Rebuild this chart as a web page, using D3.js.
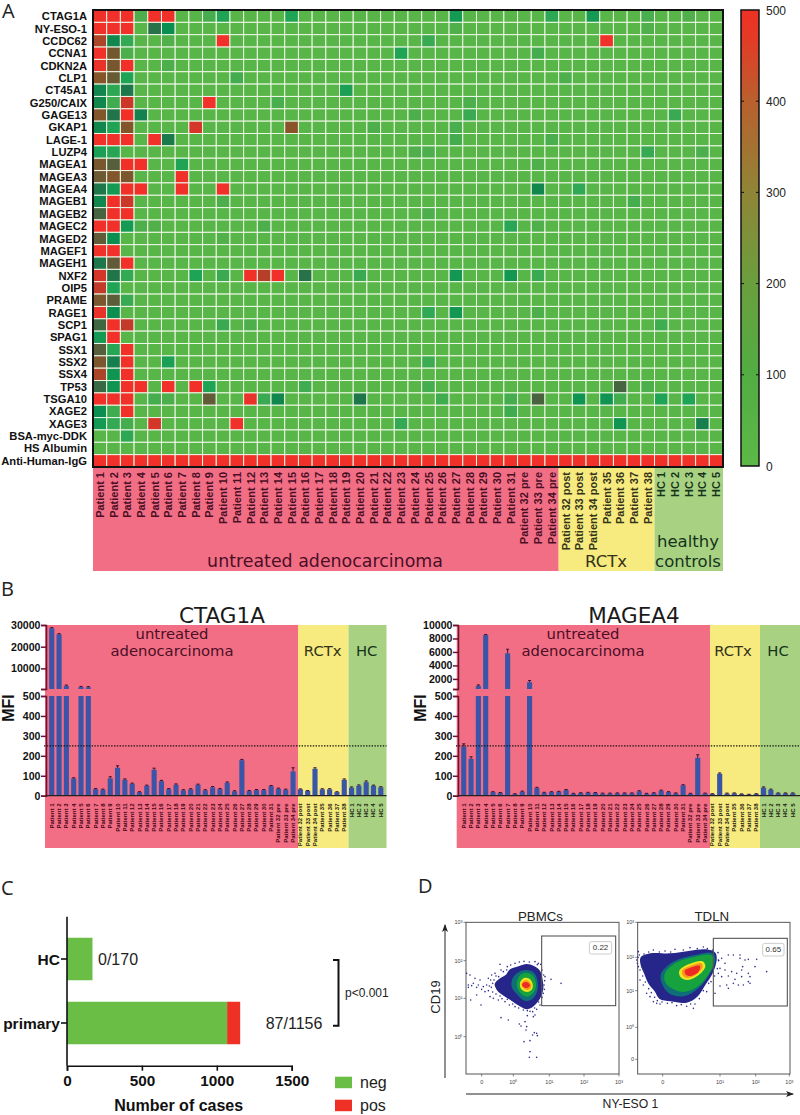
<!DOCTYPE html>
<html><head><meta charset="utf-8">
<script src="https://cdn.jsdelivr.net/npm/d3@7"></script>
<style>html,body{margin:0;padding:0;background:#fff}svg{display:block}text{font-family:"Liberation Sans",Arial,sans-serif}</style>
</head><body><div id="c"></div>
<script>
const genes=["CTAG1A","NY-ESO-1","CCDC62","CCNA1","CDKN2A","CLP1","CT45A1","G250/CAIX","GAGE13","GKAP1","LAGE-1","LUZP4","MAGEA1","MAGEA3","MAGEA4","MAGEB1","MAGEB2","MAGEC2","MAGED2","MAGEF1","MAGEH1","NXF2","OIP5","PRAME","RAGE1","SCP1","SPAG1","SSX1","SSX2","SSX4","TP53","TSGA10","XAGE2","XAGE3","BSA-myc-DDK","HS Albumin","Anti-Human-IgG"];
const patients=["Patient 1","Patient 2","Patient 3","Patient 4","Patient 5","Patient 6","Patient 7","Patient 8","Patient 9","Patient 10","Patient 11","Patient 12","Patient 13","Patient 14","Patient 15","Patient 16","Patient 17","Patient 18","Patient 19","Patient 20","Patient 21","Patient 22","Patient 23","Patient 24","Patient 25","Patient 26","Patient 27","Patient 28","Patient 29","Patient 30","Patient 31","Patient 32 pre","Patient 33 pre","Patient 34 pre","Patient 32 post","Patient 33 post","Patient 34 post","Patient 35","Patient 36","Patient 37","Patient 38","HC 1","HC 2","HC 3","HC 4","HC 5"];
const heatBackground=12;
// [gene, patient index, value] for every cell that stands out from the background
const heatCells=[
["CTAG1A",0,500],["CTAG1A",1,500],["CTAG1A",2,500],["CTAG1A",3,40],["CTAG1A",4,500],["CTAG1A",5,500],["CTAG1A",8,50],["CTAG1A",9,110],["CTAG1A",14,110],["CTAG1A",26,130],["CTAG1A",33,90],["CTAG1A",36,130],["CTAG1A",40,45],["CTAG1A",43,35],
["NY-ESO-1",0,500],["NY-ESO-1",1,500],["NY-ESO-1",2,500],["NY-ESO-1",4,230],["NY-ESO-1",5,150],["NY-ESO-1",26,35],["NY-ESO-1",40,35],
["CCDC62",0,430],["CCDC62",1,170],["CCDC62",2,80],["CCDC62",5,30],["CCDC62",9,500],["CCDC62",24,70],["CCDC62",37,500],
["CCNA1",0,500],["CCNA1",1,350],["CCNA1",2,40],["CCNA1",22,110],["CCNA1",32,55],
["CDKN2A",0,490],["CDKN2A",1,360],["CDKN2A",2,500],["CDKN2A",5,40],
["CLP1",0,390],["CLP1",1,330],["CLP1",2,110],["CLP1",10,55],["CLP1",34,40],
["CT45A1",0,170],["CT45A1",1,90],["CT45A1",2,210],["CT45A1",18,120],
["G250/CAIX",0,170],["G250/CAIX",1,60],["G250/CAIX",2,460],["G250/CAIX",8,500],["G250/CAIX",13,45],["G250/CAIX",27,40],
["GAGE13",0,380],["GAGE13",1,220],["GAGE13",2,500],["GAGE13",3,180],["GAGE13",23,40],["GAGE13",27,70],["GAGE13",42,70],
["GKAP1",0,170],["GKAP1",1,110],["GKAP1",2,380],["GKAP1",7,470],["GKAP1",14,400],["GKAP1",20,40],["GKAP1",26,45],
["LAGE-1",0,500],["LAGE-1",1,500],["LAGE-1",2,500],["LAGE-1",4,500],["LAGE-1",5,200],["LAGE-1",26,55],["LAGE-1",33,45],
["LUZP4",0,120],["LUZP4",1,100],["LUZP4",23,35],["LUZP4",24,40],["LUZP4",40,75],["LUZP4",44,40],
["MAGEA1",0,360],["MAGEA1",1,300],["MAGEA1",2,500],["MAGEA1",3,500],["MAGEA1",6,110],["MAGEA1",32,35],
["MAGEA3",0,340],["MAGEA3",1,380],["MAGEA3",2,370],["MAGEA3",6,500],
["MAGEA4",0,210],["MAGEA4",1,130],["MAGEA4",2,500],["MAGEA4",3,500],["MAGEA4",6,500],["MAGEA4",9,500],["MAGEA4",32,170],["MAGEA4",35,85],
["MAGEB1",0,170],["MAGEB1",1,500],["MAGEB1",2,460],["MAGEB1",9,40],["MAGEB1",39,50],
["MAGEB2",0,280],["MAGEB2",1,500],["MAGEB2",2,500],["MAGEB2",24,40],
["MAGEC2",0,500],["MAGEC2",1,500],["MAGEC2",2,130],["MAGEC2",3,40],["MAGEC2",4,30],["MAGEC2",12,40],["MAGEC2",30,95],["MAGEC2",32,35],
["MAGED2",0,320],["MAGED2",1,150],["MAGED2",9,30],
["MAGEF1",0,500],["MAGEF1",1,500],
["MAGEH1",0,210],["MAGEH1",1,320],["MAGEH1",2,500],
["NXF2",0,470],["NXF2",1,220],["NXF2",2,80],["NXF2",7,110],["NXF2",9,70],["NXF2",11,500],["NXF2",12,440],["NXF2",13,500],["NXF2",15,230],["NXF2",19,70],["NXF2",26,135],["NXF2",30,135],["NXF2",32,70],
["OIP5",0,450],["OIP5",1,110],
["PRAME",0,370],["PRAME",1,310],["PRAME",2,70],
["RAGE1",0,490],["RAGE1",1,150],["RAGE1",24,85],["RAGE1",26,135],["RAGE1",32,40],
["SCP1",0,270],["SCP1",1,500],["SCP1",2,450],["SCP1",9,70],["SCP1",11,40],["SCP1",41,60],
["SPAG1",0,130],["SPAG1",1,500],
["SSX1",0,300],["SSX1",1,100],["SSX1",2,500],
["SSX2",0,370],["SSX2",1,190],["SSX2",2,500],["SSX2",5,120],["SSX2",24,65],
["SSX4",0,430],["SSX4",1,140],["SSX4",2,500],
["TP53",0,260],["TP53",1,140],["TP53",2,500],["TP53",3,500],["TP53",5,500],["TP53",7,500],["TP53",8,110],["TP53",15,60],["TP53",24,50],["TP53",38,280],["TP53",40,40],
["TSGA10",0,500],["TSGA10",1,500],["TSGA10",2,500],["TSGA10",4,50],["TSGA10",5,40],["TSGA10",8,320],["TSGA10",11,490],["TSGA10",12,70],["TSGA10",13,170],["TSGA10",19,210],["TSGA10",25,60],["TSGA10",30,50],["TSGA10",32,285],["TSGA10",35,140],["TSGA10",37,140],["TSGA10",38,55],["TSGA10",41,110],["TSGA10",43,110],
["XAGE2",0,150],["XAGE2",1,60],["XAGE2",2,500],["XAGE2",30,60],
["XAGE3",0,130],["XAGE3",1,80],["XAGE3",2,50],["XAGE3",4,470],["XAGE3",10,500],["XAGE3",22,80],["XAGE3",38,140],["XAGE3",44,190],
["BSA-myc-DDK",2,90]
];
const heatStops=[0,30,70,110,150,200,250,300,350,400,450,500];
const heatColors=["#5cb947","#52b04a","#3aaa52","#1fa456","#0b8f50","#1a7a4c","#2f6c46","#555f3c","#73582f","#8a5428","#c23a2a","#f1302a"];
const barStops=[0,100,200,300,400,470,500];
const barColors=["#5cb947","#52ad43","#6a9f3e","#8f8537","#b9602e","#e43a26","#ee3124"];
const colorbarTicks=[0,100,200,300,400,500];
const groups=[{name:"pink",from:0,to:33,fill:"#f26e85",ink:"#4a0f25"},{name:"yellow",from:34,to:40,fill:"#f7ea7e",ink:"#33331a"},{name:"green",from:41,to:45,fill:"#a8d282",ink:"#16331b"}];

const ctagValues=[28500,25700,1900,87,1400,1300,33,30,87,140,80,60,18,50,130,73,33,55,27,32,55,27,42,33,65,22,178,23,28,28,48,35,30,122,32,24,135,32,32,18,80,40,50,68,50,42];
const ctagErrors=[300,300,400,3,300,300,3,3,8,10,4,3,2,3,8,4,3,4,3,3,3,3,4,3,4,3,4,3,3,3,3,3,3,18,2,2,5,3,3,2,4,4,4,6,3,3];
const mageValues=[245,185,950,8500,18,14,5800,8,20,1500,38,15,18,20,28,10,13,15,14,11,11,12,12,12,22,10,13,25,18,12,52,10,190,11,9,110,11,12,8,6,9,40,30,12,12,12];
const mageErrors=[15,10,150,80,2,2,600,2,3,250,4,2,2,2,3,2,2,2,2,2,2,2,2,2,3,2,2,3,2,2,3,2,15,2,1,4,2,2,1,1,1,4,3,2,2,2];
const lowTicks=[0,100,200,300,400,500];
const ctagHighTicks=[10000,20000,30000];
const mageHighTicks=[2000,4000,6000,8000,10000];
const cutoff=250;

const caseGroups=["HC","primary"];
const caseNeg=[170,1069];
const casePos=[0,87];
const caseLabels=["0/170","87/1156"];
const caseTicks=[0,500,1000,1500];

// flow plots: density outlines and single events, read in picture channels
const flowLevels=["#26258a","#0f6f78","#16a23c","#f2e41e","#f59a1e","#ee2a24"];
const pbmcContours=[
[[368,330],[360,302],[342,288],[320,282],[298,288],[270,298],[258,314],[238,326],[224,342],[232,362],[252,378],[274,392],[298,408],[322,418],[344,406],[362,382],[370,355]],
[[352,330],[342,308],[320,300],[296,306],[278,325],[275,350],[290,372],[314,392],[336,388],[352,362]],
[[348,340],[336,314],[316,308],[298,318],[290,345],[302,370],[322,380],[342,366]],
[[338,342],[328,326],[312,324],[300,338],[304,358],[322,366],[336,358]],
[[334,344],[324,332],[312,332],[304,342],[310,354],[324,360],[332,354]],
[[330,345],[320,336],[310,338],[306,346],[316,354],[326,352]]];
const tdlnContours=[
[[662,262],[692,250],[750,250],[810,242],[858,238],[886,248],[890,270],[878,310],[856,345],[832,380],[800,398],[752,394],[718,386],[704,364],[686,342],[672,310],[662,285]],
[[722,314],[742,288],[776,268],[830,254],[878,250],[886,272],[868,314],[836,354],[795,378],[750,372],[728,346]],
[[735,310],[770,277],[825,260],[875,256],[882,275],[862,318],[830,352],[790,366],[754,354],[735,335]],
[[778,302],[808,282],[848,274],[856,290],[832,318],[802,330],[782,322]],
[[786,302],[816,286],[844,280],[848,292],[830,312],[804,324],[790,318]],
[[794,302],[820,290],[840,288],[835,306],[812,318],[798,314]]];
const pbmcEvents=[[243,443],[265,450],[298,462],[315,455],[303,468],[320,470],[318,480],[343,488],[350,490],[338,495],[352,497],[312,515],[330,512],[330,545],[328,562],[350,562],[340,440],[322,437],[345,435],[393,328],[423,340],[183,405],[152,390],[170,375],[160,340],[145,345],[155,347],[140,310],[150,315],[165,325],[180,330],[175,345],[190,350],[200,345],[195,365],[210,380],[205,325],[215,315],[225,310],[240,283],[243,300],[260,300],[232,335],[345,275],[362,283],[355,280],[375,320],[372,345],[370,370],[360,405],[350,418],[338,425],[322,422],[145,352],[170,352],[185,358],[205,362],[220,385],[235,390],[255,395],[268,405],[285,410],[218,340],[214,352],[222,330],[228,372],[240,378],[250,305],[262,290],[272,285],[285,280],[298,276],[312,274],[328,276],[352,284],[366,300],[371,315],[374,332],[373,358],[366,382],[356,396],[344,414],[330,424],[310,420],[296,414],[278,402],[262,388],[246,386],[236,320],[228,318],[212,330],[208,348],[218,366]];
const tdlnEvents=[[925,255],[940,255],[960,255],[985,268],[1010,268],[1005,290],[968,290],[965,300],[950,310],[935,305],[915,300],[900,295],[895,310],[905,320],[925,318],[945,328],[965,320],[985,310],[990,320],[985,335],[970,345],[955,345],[940,340],[920,345],[900,348],[925,355],[1040,305],[885,370],[990,340],[960,265],[975,270],[895,270],[905,265],[915,280],[820,415],[655,290],[660,330],[670,345],[680,370],[690,380],[700,395],[710,400],[650,270],[655,245],[700,240],[735,243],[765,238],[810,233],[850,231],[720,402],[770,407],[800,409],[825,402],[860,365],[873,335],[654,262],[658,255],[664,270],[652,280],[660,300],[668,318],[676,336],[686,356],[694,368],[704,382],[712,392],[726,396],[742,400],[756,398],[784,404],[812,402],[838,386],[850,362],[866,340],[884,318],[892,296],[896,272],[894,248],[878,240],[862,236],[832,236],[790,240],[752,246],[718,246],[686,246],[672,252],[666,290],[674,302]];
const flowPlots=[
{title:"PBMCs",box:[138,597],value:"0.22",gate:[365,587,198,407],valueBox:[508,575,215,252],contours:pbmcContours,events:pbmcEvents,xTicks:[[185,"0"],[280,"10⁰"],[388,"10¹"],[492,"10²"],[597,"10³"]],yTicks:[[157,"10³"],[272,"10²"],[385,"10¹"],[500,"10⁰"]]},
{title:"TDLN",box:[653,1110],value:"0.65",gate:[880,1102,205,408],valueBox:[1028,1092,220,258],contours:tdlnContours,events:tdlnEvents,xTicks:[[728,"0"],[900,"10¹"],[1007,"10²"],[1108,"10³"]],yTicks:[[157,"10³"],[262,"10²"],[362,"10¹"],[472,"10⁰"],[568,"0"]]}];

const svg=d3.select("#c").append("svg").attr("width",800).attr("height",1115).attr("viewBox","0 0 800 1115");
const DJ='"DejaVu Sans",sans-serif';
function letter(t,x,y){svg.append("text").attr("x",x).attr("y",y).attr("font-size",20).attr("fill","#222").style("font-family",'"Open Sans",sans-serif').text(t);}
letter("A",2,18);letter("B",1,596);letter("C",1,895);letter("D",418,893);

/* ---------- Panel A ---------- */
const hm={l:93,r:723,t:10,b:467};
const hx=d3.scaleBand().domain(patients).range([hm.l,hm.r]);
const hy=d3.scaleBand().domain(genes).range([hm.t,hm.b]);
const heatColor=d3.scaleLinear().domain(heatStops).range(heatColors).clamp(true);
const heatLookup=new Map(heatCells.map(d=>[d[0]+"|"+d[1],d[2]]));
const A=svg.append("g");
const grid=[];
genes.forEach(g=>patients.forEach((p,i)=>{
  const v=g==="Anti-Human-IgG"?500:(heatLookup.has(g+"|"+i)?heatLookup.get(g+"|"+i):heatBackground);
  grid.push({g,p,v});
}));
A.selectAll("rect.cell").data(grid).join("rect").attr("class","cell")
 .attr("x",d=>hx(d.p)).attr("y",d=>hy(d.g)).attr("width",hx.bandwidth()).attr("height",hy.bandwidth())
 .attr("fill",d=>heatColor(d.v)).attr("stroke","#eef7e6").attr("stroke-width",1);
A.append("rect").attr("x",hm.l).attr("y",hm.t).attr("width",hm.r-hm.l).attr("height",hm.b-hm.t).attr("fill","none").attr("stroke","#111").attr("stroke-width",2);
A.selectAll("text.gene").data(genes).join("text").attr("class","gene").attr("x",87).attr("y",d=>hy(d)+hy.bandwidth()/2+4)
 .attr("text-anchor","end").attr("font-size",11.2).attr("font-weight","bold").attr("fill","#111").text(d=>d);
const bandTop=468,bandBottom=571;
groups.forEach(g=>{
  const x0=hx(patients[g.from]),x1=hx(patients[g.to])+hx.bandwidth();
  A.append("rect").attr("x",x0).attr("y",bandTop).attr("width",x1-x0).attr("height",bandBottom-bandTop).attr("fill",g.fill);
});
function inkFor(i){return groups.find(g=>i>=g.from&&i<=g.to).ink;}
A.selectAll("text.pat").data(patients).join("text").attr("class","pat")
 .attr("transform",d=>`translate(${hx(d)+hx.bandwidth()/2+4},472) rotate(-90)`)
 .attr("text-anchor","end").attr("font-size",11).attr("font-weight","bold").attr("fill",(d,i)=>inkFor(i)).text(d=>d);
function bigLabel(parent,t,x,y,size,ink,anchor){parent.append("text").attr("x",x).attr("y",y).attr("text-anchor",anchor||"middle").attr("font-size",size).attr("fill",ink).style("font-family",DJ).text(t);}
bigLabel(A,"untreated adenocarcinoma",325,567,17.4,"#4a0f25");
bigLabel(A,"RCTx",606,567,16.5,"#33331a");
bigLabel(A,"healthy",688,547,16.5,"#16331b");
bigLabel(A,"controls",688,567,16.5,"#16331b");

// colour bar
const cb={l:741,r:759,t:10,b:466};
const cy=d3.scaleLinear().domain([0,500]).range([cb.b,cb.t]);
const barColor=d3.scaleLinear().domain(barStops).range(barColors);
const defs=svg.append("defs");
const lg=defs.append("linearGradient").attr("id","cbg").attr("x1",0).attr("x2",0).attr("y1",1).attr("y2",0);
barStops.forEach(s=>lg.append("stop").attr("offset",s/500).attr("stop-color",barColor(s)));
A.append("rect").attr("x",cb.l).attr("y",cb.t).attr("width",cb.r-cb.l).attr("height",cb.b-cb.t).attr("fill","url(#cbg)").attr("stroke","#111").attr("stroke-width",1.5);
colorbarTicks.forEach(t=>{
  if(t>0&&t<500){A.append("line").attr("x1",cb.l).attr("x2",cb.l+3).attr("y1",cy(t)).attr("y2",cy(t)).attr("stroke","#111").attr("stroke-width",1);
  A.append("line").attr("x1",cb.r-3).attr("x2",cb.r).attr("y1",cy(t)).attr("y2",cy(t)).attr("stroke","#111").attr("stroke-width",1);}
  A.append("text").attr("x",766).attr("y",cy(t)+4.5).attr("font-size",12).attr("fill","#222").text(t);
});

/* ---------- Panel B ---------- */
function barPanel(o){
  const g=svg.append("g");
  const top=625,bottom=848,zero=795.7,five=696,brk=689;
  const x=d3.scaleBand().domain(patients).range([o.x0,o.x0+7.36*46]).padding(0.3);
  const low=d3.scaleLinear().domain([0,500]).range([zero,five]);
  const high=d3.scaleLinear().domain([500,o.max]).range([brk,top]);
  const edges=[o.bgL,o.bg1,o.bg2,o.bgR];
  groups.forEach((gr,i)=>g.append("rect").attr("x",edges[i]).attr("y",top).attr("width",edges[i+1]-edges[i]).attr("height",bottom-top).attr("fill",gr.fill));
  const rows=patients.map((p,i)=>({p,v:o.values[i],e:o.errors[i]}));
  g.selectAll("rect.lo").data(rows).join("rect").attr("class","lo").attr("x",d=>x(d.p)).attr("width",x.bandwidth())
    .attr("y",d=>low(Math.min(d.v,500))).attr("height",d=>zero-low(Math.min(d.v,500))).attr("fill","#3a55a8");
  const tall=rows.filter(d=>d.v>500);
  g.selectAll("rect.hi").data(tall).join("rect").attr("class","hi").attr("x",d=>x(d.p)).attr("width",x.bandwidth())
    .attr("y",d=>high(d.v)).attr("height",d=>brk-high(d.v)).attr("fill","#3a55a8");
  const yTop=d=>d.v>500?high(d.v+d.e):low(d.v+d.e);
  const yVal=d=>d.v>500?high(d.v):low(d.v);
  g.selectAll("line.err").data(rows).join("line").attr("class","err").attr("x1",d=>x(d.p)+x.bandwidth()/2).attr("x2",d=>x(d.p)+x.bandwidth()/2)
    .attr("y1",yVal).attr("y2",yTop).attr("stroke","#3b1030").attr("stroke-width",1);
  g.selectAll("line.cap").data(rows).join("line").attr("class","cap").attr("x1",d=>x(d.p)+1).attr("x2",d=>x(d.p)+x.bandwidth()-1)
    .attr("y1",yTop).attr("y2",yTop).attr("stroke","#3b1030").attr("stroke-width",1);
  // cutoff
  g.append("line").attr("x1",o.axisX-2).attr("x2",o.bgR).attr("y1",low(cutoff)).attr("y2",low(cutoff)).attr("stroke","#111").attr("stroke-width",1.4).attr("stroke-dasharray","1.4 1.4");
  // axes
  const axL=g.append("g").attr("transform",`translate(${o.axisX},0)`).call(d3.axisLeft(low).tickValues(lowTicks).tickSize(5));
  const axH=g.append("g").attr("transform",`translate(${o.axisX},0)`).call(d3.axisLeft(high).tickValues([500].concat(o.highTicks)).tickSize(5).tickFormat(d=>d===500?"":d));
  [axL,axH].forEach(a=>{a.selectAll("path,line").attr("stroke","#6d1230").attr("stroke-width",1.5);
    a.selectAll("text").attr("font-size",10.6).attr("font-weight","bold").attr("fill","#111").style("font-family",'"Liberation Sans",Arial,sans-serif').attr("x",-5.5);});
  g.append("line").attr("x1",o.axisX).attr("x2",o.bgR).attr("y1",zero).attr("y2",zero).attr("stroke","#222").attr("stroke-width",1.2);
  g.selectAll("text.bl").data(patients).join("text").attr("class","bl")
    .attr("transform",d=>`translate(${x(d)+x.bandwidth()/2+2},803.5) rotate(-90)`).attr("text-anchor","end")
    .attr("font-size",6).attr("font-weight","bold").attr("fill",(d,i)=>i<=33?"#3f0515":"#1a1a10").text(d=>d);
  g.append("text").attr("transform",`translate(${o.mfiX},708) rotate(-90)`).attr("text-anchor","middle").attr("font-size",16).attr("font-weight","bold").attr("fill","#111").text("MFI");
  bigLabel(g,o.title,o.titleX,623,21.5,"#1a1a1a");
  bigLabel(g,"untreated",o.labelX,639,14.8,"#4a0f25");
  bigLabel(g,"adenocarcinoma",o.labelX,656,14.8,"#4a0f25");
  bigLabel(g,"RCTx",o.rctX,656,14.8,"#33331a");
  bigLabel(g,"HC",o.hcX,656,14.8,"#16331b");
}
barPanel({title:"CTAG1A",values:ctagValues,errors:ctagErrors,max:30000,highTicks:ctagHighTicks,x0:47,axisX:46,bgL:45,bg1:298,bg2:348.5,bgR:386.5,mfiX:14,titleX:222,labelX:172,rctX:322.7,hcX:366.7});
barPanel({title:"MAGEA4",values:mageValues,errors:mageErrors,max:10000,highTicks:mageHighTicks,x0:459,axisX:458,bgL:456.7,bg1:710,bg2:760,bgR:800,mfiX:426,titleX:634,labelX:583,rctX:733,hcX:778});

/* ---------- Panel C ---------- */
const C=svg.append("g");
const cx=d3.scaleLinear().domain([0,1500]).range([67,291.7]);
const cBand=d3.scalePoint().domain(caseGroups).range([959,1023]);
const barH=42.5;
C.selectAll("rect.neg").data(caseGroups).join("rect").attr("class","neg").attr("x",cx(0)).attr("width",(d,i)=>cx(caseNeg[i])-cx(0))
 .attr("y",d=>cBand(d)-barH/2).attr("height",barH).attr("fill","#6abd45");
C.selectAll("rect.pos").data(caseGroups).join("rect").attr("class","pos").attr("x",(d,i)=>cx(caseNeg[i])).attr("width",(d,i)=>cx(caseNeg[i]+casePos[i])-cx(caseNeg[i]))
 .attr("y",d=>cBand(d)-barH/2).attr("height",barH).attr("fill","#ee3124");
const cxA=C.append("g").attr("transform","translate(0,1065.7)").call(d3.axisBottom(cx).tickValues(caseTicks).tickSize(5).tickFormat(d3.format("d")));
cxA.selectAll("path,line").attr("stroke","#111").attr("stroke-width",1.6);
cxA.selectAll("text").attr("font-size",15.3).attr("font-weight","bold").attr("fill","#111").attr("y",9).style("font-family",'"Liberation Sans",Arial,sans-serif');
C.append("line").attr("x1",67).attr("x2",67).attr("y1",916.7).attr("y2",1065.7).attr("stroke","#111").attr("stroke-width",1.6);
caseGroups.forEach((g,i)=>{
  C.append("line").attr("x1",61).attr("x2",67).attr("y1",cBand(g)).attr("y2",cBand(g)).attr("stroke","#111").attr("stroke-width",1.6);
  C.append("text").attr("x",60).attr("y",cBand(g)+5.5).attr("text-anchor","end").attr("font-size",15.5).attr("font-weight","bold").attr("fill","#111").text(g);
  C.append("text").attr("x",i===0?98:265.7).attr("y",cBand(g)+6).attr("font-size",16).attr("fill","#222").text(caseLabels[i]);
});
C.append("text").attr("x",178.7).attr("y",1110.5).attr("text-anchor","middle").attr("font-size",16).attr("font-weight","bold").attr("fill","#111").text("Number of cases");
C.append("path").attr("d",d3.line()([[333,960],[338.5,960],[338.5,1025.7],[333,1025.7]])).attr("fill","none").attr("stroke","#111").attr("stroke-width",2);
C.append("text").attr("x",345).attr("y",997).attr("font-size",12).attr("fill","#222").text("p<0.001");
[["neg","#6abd45",1076.7],["pos","#ee3124",1099.7]].forEach(l=>{
  C.append("rect").attr("x",335).attr("y",l[2]).attr("width",17).attr("height",11.5).attr("fill",l[1]);
  C.append("text").attr("x",360).attr("y",l[2]+11.5).attr("font-size",16).attr("fill","#222").text(l[0]);
});

/* ---------- Panel D ---------- */
const D=svg.append("g");
const px=d3.scaleLinear().domain([0,1200]).range([420,820]); // picture channels to page
const py=d3.scaleLinear().domain([0,735]).range([870,1115]);
const blob=d3.line().x(d=>px(d[0])).y(d=>py(d[1])).curve(d3.curveCatmullRomClosed.alpha(0.5));
flowPlots.forEach(p=>{
  const g=D.append("g");
  g.append("rect").attr("x",px(p.box[0])).attr("y",py(157)).attr("width",px(p.box[1])-px(p.box[0])).attr("height",py(612)-py(157)).attr("fill","#fff").attr("stroke","#555").attr("stroke-width",1);
  g.selectAll("path.lvl").data(p.contours).join("path").attr("class","lvl").attr("d",blob).attr("fill",(d,i)=>flowLevels[i]);
  g.selectAll("circle.ev").data(p.events).join("circle").attr("class","ev").attr("cx",d=>px(d[0])).attr("cy",d=>py(d[1])).attr("r",0.8).attr("fill","#2e2e90");
  g.append("rect").attr("x",px(p.gate[0])).attr("y",py(p.gate[2])).attr("width",px(p.gate[1])-px(p.gate[0])).attr("height",py(p.gate[3])-py(p.gate[2])).attr("fill","none").attr("stroke","#555").attr("stroke-width",1.1);
  g.append("rect").attr("x",px(p.valueBox[0])).attr("y",py(p.valueBox[2])).attr("rx",2).attr("width",px(p.valueBox[1])-px(p.valueBox[0])).attr("height",py(p.valueBox[3])-py(p.valueBox[2])).attr("fill","#fff").attr("stroke","#ccc").attr("stroke-width",1);
  g.append("text").attr("x",px((p.valueBox[0]+p.valueBox[1])/2)).attr("y",py(p.valueBox[3])-3.8).attr("text-anchor","middle").attr("font-size",8).attr("fill","#333").text(p.value);
  g.append("text").attr("x",px((p.box[0]+p.box[1])/2-6)).attr("y",921).attr("text-anchor","middle").attr("font-size",13.3).attr("fill","#222").text(p.title);
  p.xTicks.forEach(t=>{
    g.append("line").attr("x1",px(t[0])).attr("x2",px(t[0])).attr("y1",py(612)).attr("y2",py(612)+2.5).attr("stroke","#555").attr("stroke-width",.7);
    g.append("text").attr("x",px(t[0])).attr("y",py(612)+9.5).attr("text-anchor","middle").attr("font-size",5.5).attr("fill","#444").text(t[1]);
  });
  p.yTicks.forEach(t=>{
    g.append("line").attr("x1",px(p.box[0])-2.5).attr("x2",px(p.box[0])).attr("y1",py(t[0])).attr("y2",py(t[0])).attr("stroke","#555").attr("stroke-width",.7);
    g.append("text").attr("x",px(p.box[0])-3.5).attr("y",py(t[0])+2).attr("text-anchor","end").attr("font-size",5.5).attr("fill","#444").text(t[1]);
  });
});
defs.append("marker").attr("id","ah").attr("viewBox","0 0 8 6").attr("refX",7).attr("refY",3).attr("markerWidth",8).attr("markerHeight",6).attr("markerUnits","userSpaceOnUse").attr("orient","auto").append("path").attr("d","M0,0L8,3L0,6L2,3Z").attr("fill","#222");
D.append("line").attr("x1",445).attr("x2",445).attr("y1",1078).attr("y2",925).attr("stroke","#222").attr("stroke-width",1).attr("marker-end","url(#ah)");
D.append("line").attr("x1",466).attr("x2",793).attr("y1",1094).attr("y2",1094).attr("stroke","#222").attr("stroke-width",1).attr("marker-end","url(#ah)");
D.append("text").attr("transform","translate(440,997) rotate(-90)").attr("text-anchor","middle").attr("font-size",13).attr("fill","#222").text("CD19");
D.append("text").attr("x",630.5).attr("y",1108).attr("text-anchor","middle").attr("font-size",12.2).attr("fill","#222").text("NY-ESO 1");
</script></body></html>
